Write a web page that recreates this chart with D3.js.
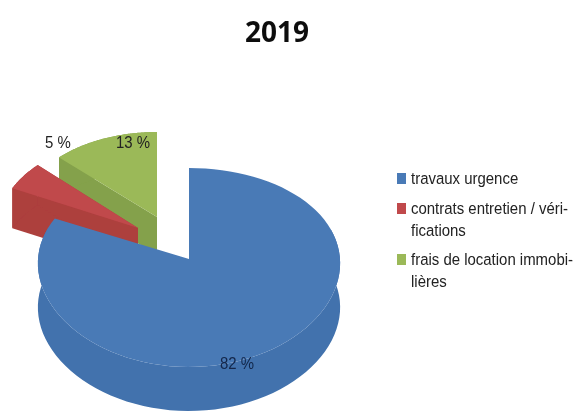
<!DOCTYPE html>
<html><head><meta charset="utf-8">
<script src="https://cdnjs.cloudflare.com/ajax/libs/d3/7.8.5/d3.min.js"></script>
<style>html,body{margin:0;background:#fff}svg{display:block}</style></head>
<body><svg id="c" width="583" height="411"></svg>
<script>
const categories = ["travaux urgence","contrats entretien / véri-\nfications","frais de location immobi-\nlières"];
const values = [82,5,13];
const labels = ["82 %","5 %","13 %"];
const topColors = ["#4a7ab6","#c0484b","#9bb959"];
const sideColors = ["#4272ad","#ad3f3d","#84a14b"];
const title = "2019";

const font = "'Liberation Sans',sans-serif";
const root = d3.select("#c");
root.append("filter").attr("id","soft").append("feGaussianBlur").attr("stdDeviation",0.45);
const svg = root.append("g").attr("filter","url(#soft)");
const arcs = d3.pie().sort(null).startAngle(0).endAngle(2*Math.PI)(values);
const geom = [
 {ax:189,ay:259,rx:151,up:91,down:108,depth:44},
 {ax:138,ay:228,rx:141,up:90,down:104,depth:40},
 {ax:157,ay:217,rx:138,up:85,down:100,depth:38}
];
const k = g => (g.down-g.up)/(g.down+g.up);
function proj(g,t,dz=0){
  const p=-Math.cos(t), kk=k(g), a=g.up*(1+kk), w=1-kk*p;
  return [g.ax+g.rx*Math.sin(t)/Math.sqrt(w), g.ay+a*p/w+dz];
}
const line=d3.line();
const samples=(s,e,n=90)=>d3.range(n+1).map(i=>s+(e-s)*i/n);

[2,1,0].forEach(i=>{
  const d=arcs[i],g=geom[i];
  const apex=[g.ax,g.ay], apexB=[g.ax,g.ay+g.depth];
  const s=d.startAngle,e=d.endAngle;
  const gr=svg.append("g");
  if(i>0){
    const ps=proj(g,s), pe=proj(g,e);
    gr.append("path").attr("fill",sideColors[i]).attr("d",line([apex,ps,[ps[0],ps[1]+g.depth],apexB])+"Z");
    gr.append("path").attr("fill",sideColors[i]).attr("d",line([apex,pe,[pe[0],pe[1]+g.depth],apexB])+"Z");
  }
  const rs=samples(s,e).filter(t=>Math.cos(t)<0.35||i>0);
  if(rs.length>1){
    const upper=rs.map(t=>proj(g,t)), lower=rs.map(t=>proj(g,t,g.depth)).reverse();
    gr.append("path").attr("fill",sideColors[i]).attr("d",line(upper.concat(lower))+"Z");
  }
  gr.append("path").attr("fill",topColors[i])
    .attr("d",line([apex].concat(samples(s,e).map(t=>proj(g,t))))+"Z");
});

svg.append("text").attr("x",277).attr("y",42).attr("text-anchor","middle")
  .attr("font-family","'Open Sans',sans-serif").attr("font-weight",700).attr("font-size",28)
  .attr("fill","#111").text(title);

const labelPos=[[237,369],[58,148],[133,148]];
labels.forEach((t,i)=>svg.append("text")
  .attr("transform",`translate(${labelPos[i][0]},${labelPos[i][1]}) scale(0.88,1)`)
  .attr("text-anchor","middle").attr("font-family",font).attr("font-size",17)
  .attr("fill",i==0?"#12264a":"#222").text(t));

const legY=[173,203,254];
const legText=[184,214,265];
categories.forEach((c,i)=>{
  svg.append("rect").attr("x",397).attr("y",legY[i]).attr("width",9).attr("height",11).attr("fill",topColors[i]);
  c.split("\n").forEach((s,j)=>svg.append("text")
    .attr("transform",`translate(411,${legText[i]+j*22}) scale(0.88,1)`)
    .attr("font-family",font).attr("font-size",17).attr("fill","#222").text(s));
});
</script></body></html>
